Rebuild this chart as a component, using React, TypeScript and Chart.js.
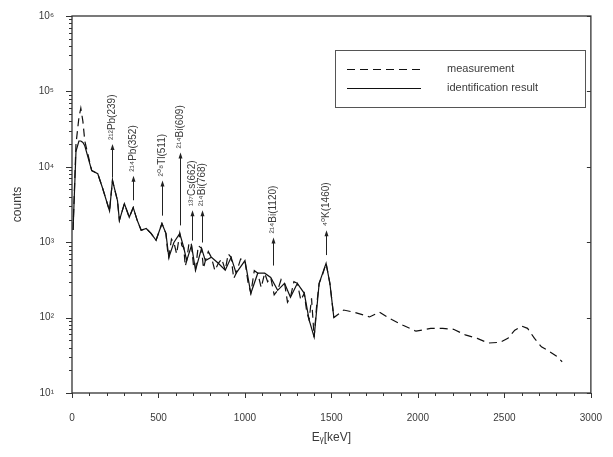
import React, { useEffect, useRef } from "react";
import { Chart, registerables } from "chart.js";

Chart.register(...registerables);

// Identification result (coarse peak-fit curve), keV / counts
const identEnergy = [6, 23, 40, 51, 63, 74, 114, 149, 177, 217, 234, 263, 274, 303, 331, 354, 377, 400, 429, 457, 486, 520, 543, 560, 589, 623, 646, 663, 691, 714, 749, 771, 806, 846, 886, 920, 949, 1000, 1034, 1074, 1114, 1149, 1189, 1229, 1263, 1303, 1343, 1371, 1400, 1429, 1469, 1491, 1514];
const identCounts = [1450, 16000, 22000, 22000, 21000, 19000, 8900, 8100, 5200, 2600, 6600, 3560, 1950, 3250, 2140, 2880, 1950, 1440, 1520, 1310, 1060, 1770, 1310, 630, 990, 1310, 850, 570, 910, 425, 830, 570, 630, 525, 425, 630, 388, 570, 210, 388, 388, 340, 230, 285, 186, 285, 210, 93, 55, 285, 525, 285, 100];
// Measurement, keV / counts
const measEnergy = [6, 23, 40, 51, 63, 74, 114, 149, 177, 217, 234, 263, 274, 303, 331, 354, 377, 400, 429, 457, 486, 520, 543, 552, 560, 575, 589, 605, 623, 635, 646, 655, 663, 677, 691, 702, 714, 730, 749, 760, 771, 788, 806, 826, 846, 866, 886, 903, 920, 935, 949, 975, 1000, 1017, 1034, 1054, 1074, 1094, 1114, 1131, 1149, 1169, 1189, 1209, 1229, 1246, 1263, 1283, 1303, 1323, 1343, 1357, 1371, 1385, 1400, 1415, 1429, 1450, 1469, 1491, 1514, 1571, 1629, 1686, 1720, 1777, 1834, 1914, 1989, 2074, 2143, 2206, 2274, 2343, 2406, 2474, 2520, 2560, 2600, 2634, 2674, 2714, 2749, 2800, 2834];
const measCounts = [1450, 20000, 45000, 60000, 40000, 22000, 8900, 8100, 5200, 2600, 6600, 3560, 1950, 3250, 2140, 2880, 1950, 1440, 1520, 1310, 1060, 1770, 1310, 800, 630, 1100, 990, 700, 1310, 900, 850, 480, 570, 1000, 910, 500, 425, 900, 830, 450, 570, 750, 630, 420, 525, 600, 425, 700, 630, 330, 388, 600, 570, 300, 210, 420, 388, 250, 388, 300, 340, 200, 230, 320, 285, 160, 186, 300, 285, 170, 210, 120, 93, 180, 55, 150, 285, 380, 525, 285, 100, 126, 118, 108, 102, 118, 98, 79, 66, 72, 72, 70, 59, 53, 46, 47, 53, 68, 77, 72, 53, 41, 37, 31, 26];

// Peak identification annotations
const annoEnergy = [229, 354, 520, 623, 691, 749, 1160, 1469];
const annoLabel = ["²¹²Pb(239)", "²¹⁴Pb(352)", "²⁰⁸Tl(511)", "²¹⁴Bi(609)", "¹³⁷Cs(662)", "²¹⁴Bi(768)", "²¹⁴Bi(1120)", "⁴⁰K(1460)"];
const annoTip = [20000, 7600, 6600, 15500, 2650, 2650, 1150, 1440];
const annoBase = [7200, 3600, 2250, 1670, 1050, 990, 490, 675];

const xTicks = [0, 500, 1000, 1500, 2000, 2500, 3000];
const seriesNames = ["measurement", "identification result"];

const SUP: Record<string, string> = { "0": "⁰", "1": "¹", "2": "²", "3": "³", "4": "⁴", "5": "⁵", "6": "⁶", "7": "⁷", "8": "⁸", "9": "⁹" };
const FONT = "'Liberation Sans', 'DejaVu Sans', sans-serif";
const TXT = "#3a3a3a";

export default function App() {
  const ref = useRef<HTMLCanvasElement | null>(null);
  useEffect(() => {
    if (!ref.current) return;
    const meas = measEnergy.map((e, i) => ({ x: e, y: measCounts[i] }));
    const ident = identEnergy.map((e, i) => ({ x: e, y: identCounts[i] }));

    const decorations = {
      id: "decorations",
      afterDraw(chart: any) {
        const ctx = chart.ctx;
        const xs = chart.scales.x;
        const ys = chart.scales.y;
        const { left, right, top, bottom } = chart.chartArea;
        ctx.save();
        // frame
        ctx.strokeStyle = "#333";
        ctx.lineWidth = 1.3;
        ctx.strokeRect(left, top, right - left, bottom - top);
        // x ticks
        ctx.lineWidth = 1;
        for (let v = 0; v <= 3000; v += 100) {
          const px = Math.round(xs.getPixelForValue(v)) + 0.5;
          const major = v % 500 === 0;
          ctx.beginPath();
          ctx.moveTo(px, bottom);
          ctx.lineTo(px, bottom + (major ? 5 : 3));
          ctx.stroke();
        }
        // y ticks
        for (let d = 1; d <= 6; d++) {
          for (let m = 1; m <= 9; m++) {
            const v = m * Math.pow(10, d);
            if (v > 1e6) break;
            const py = Math.round(ys.getPixelForValue(v)) + 0.5;
            const major = m === 1;
            ctx.beginPath();
            ctx.moveTo(left, py);
            ctx.lineTo(left - (major ? 6 : 3), py);
            ctx.stroke();
            if (major) {
              ctx.beginPath();
              ctx.moveTo(right, py);
              ctx.lineTo(right - 4, py);
              ctx.stroke();
            }
          }
        }
        // annotations
        ctx.fillStyle = "#222";
        ctx.strokeStyle = "#222";
        annoEnergy.forEach((e, i) => {
          const px = Math.round(xs.getPixelForValue(e)) + 0.5;
          const yt = ys.getPixelForValue(annoTip[i]);
          const yb = ys.getPixelForValue(annoBase[i]);
          ctx.lineWidth = 1;
          ctx.beginPath();
          ctx.moveTo(px, yb);
          ctx.lineTo(px, yt + 4);
          ctx.stroke();
          ctx.beginPath();
          ctx.moveTo(px, yt);
          ctx.lineTo(px - 2, yt + 6);
          ctx.lineTo(px + 2, yt + 6);
          ctx.closePath();
          ctx.fill();
          ctx.save();
          ctx.translate(px, yt - 4);
          ctx.rotate(-Math.PI / 2);
          ctx.font = `10px ${FONT}`;
          ctx.fillStyle = TXT;
          ctx.textAlign = "left";
          ctx.textBaseline = "middle";
          ctx.fillText(annoLabel[i], 0, 0);
          ctx.restore();
        });
        // legend
        ctx.strokeStyle = "#555";
        ctx.lineWidth = 1;
        ctx.strokeRect(335.5, 50.5, 250, 57);
        ctx.strokeStyle = "#111";
        ctx.lineWidth = 1.2;
        ctx.setLineDash([8, 5]);
        ctx.beginPath();
        ctx.moveTo(347, 69.5);
        ctx.lineTo(421, 69.5);
        ctx.stroke();
        ctx.setLineDash([]);
        ctx.beginPath();
        ctx.moveTo(347, 88.5);
        ctx.lineTo(421, 88.5);
        ctx.stroke();
        ctx.font = `11px ${FONT}`;
        ctx.fillStyle = TXT;
        ctx.textAlign = "left";
        ctx.textBaseline = "middle";
        ctx.fillText(seriesNames[0], 447, 69);
        ctx.fillText(seriesNames[1], 447, 88);
        // axis titles
        ctx.font = `12px ${FONT}`;
        ctx.textAlign = "center";
        ctx.fillText("Eᵧ[keV]", (left + right) / 2, 438);
        ctx.save();
        ctx.translate(18, (top + bottom) / 2);
        ctx.rotate(-Math.PI / 2);
        ctx.fillText("counts", 0, 0);
        ctx.restore();
        ctx.restore();
      },
    };

    const chart = new Chart(ref.current, {
      type: "line",
      data: {
        datasets: [
          {
            label: seriesNames[0],
            data: meas,
            borderColor: "#111",
            borderWidth: 1.2,
            borderDash: [8, 5],
            pointRadius: 0,
            tension: 0,
            fill: false,
          },
          {
            label: seriesNames[1],
            data: ident,
            borderColor: "#111",
            borderWidth: 1.2,
            pointRadius: 0,
            tension: 0,
            fill: false,
          },
        ],
      },
      options: {
        animation: false,
        responsive: false,
        maintainAspectRatio: false,
        layout: { padding: { top: 15, right: 16, left: 0, bottom: 0 } },
        plugins: { legend: { display: false }, tooltip: { enabled: false } },
        scales: {
          x: {
            type: "linear",
            min: 0,
            max: 3000,
            afterFit: (s: any) => { s.height = 64; },
            afterBuildTicks: (s: any) => { s.ticks = xTicks.map((v) => ({ value: v })); },
            grid: { display: false },
            border: { display: false },
            ticks: { padding: 11, color: TXT, font: { size: 10, family: FONT }, maxRotation: 0, callback: (v: any) => String(v) },
          },
          y: {
            type: "logarithmic",
            min: 10,
            max: 1e6,
            afterFit: (s: any) => { s.width = 72; },
            afterBuildTicks: (s: any) => { s.ticks = [1, 2, 3, 4, 5, 6].map((d) => ({ value: Math.pow(10, d) })); },
            grid: { display: false },
            border: { display: false },
            ticks: {
              padding: 10,
              color: TXT,
              font: { size: 10, family: FONT },
              callback: (v: any) => "10" + String(Math.round(Math.log10(Number(v)))).split("").map((c) => SUP[c]).join(""),
            },
          },
        },
      },
      plugins: [decorations],
    });
    return () => chart.destroy();
  }, []);
  return (
    <div style={{ position: "absolute", left: 0, top: 0, width: 613, height: 457, background: "#fff" }}>
      <canvas ref={ref} width={613} height={457} style={{ width: 613, height: 457 }} />
    </div>
  );
}
